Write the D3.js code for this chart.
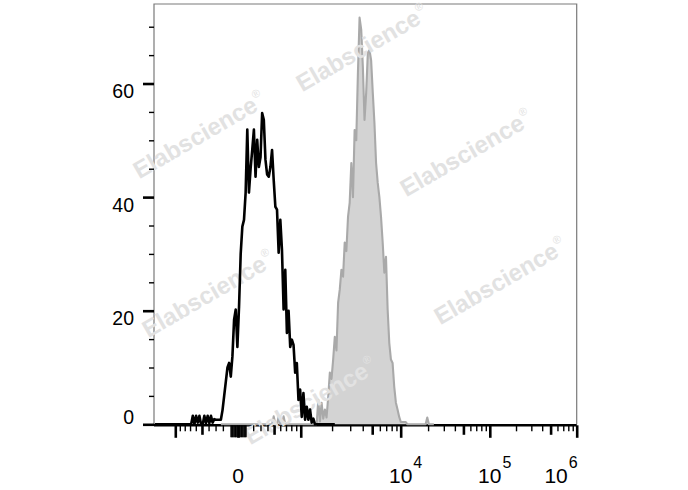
<!DOCTYPE html>
<html><head><meta charset="utf-8">
<script src="https://cdn.jsdelivr.net/npm/d3@7"></script>
<style>
html,body{margin:0;padding:0;background:#fff;}
svg{display:block;font-family:Arial,"Liberation Sans",Helvetica,sans-serif;}
</style>
</head><body>
<svg id="chart" width="688" height="490"></svg>
<script>
// ================= DATA =================
// Y axis (cell count)
const yMajorTicks = [0, 20, 40, 60];
const yMinorTicks = [5, 10, 15, 25, 30, 35, 45, 50, 55, 65, 70];
const yMax = 74;

// X axis (fluorescence, biexponential display)
const xMajorTicks = [-1000, 0, 1000, 10000, 100000, 1000000];
const xMidTicks = [-500, 500, 5000, 50000, 500000];
const xMinorTicks = [-900, -800, -700, -600, -400, -300, -200,
  200, 300, 400, 600, 700, 800, 900,
  2000, 3000, 4000, 6000, 7000, 8000, 9000,
  20000, 30000, 40000, 60000, 70000, 80000, 90000,
  200000, 300000, 400000, 600000, 700000, 800000, 900000];
const xDenseTicks = [-100, -90, -80, -70, -60, -50, -40, -30, -20, -10,
  10, 20, 30, 40, 50, 60, 70, 80, 90, 100];
const xLabelValues = [0, 10000, 100000, 1000000];
const xLabelBases = ["0", "10", "10", "10"];
const xLabelExponents = ["", "4", "5", "6"];

// Histograms: counts per display channel (256 channels across the axis)
const nChannels = 256;
const blackStartChannel = 0;
const blackCounts = [
  0,0,0,0,0,0,0,0,0,0, 0,0,0,0,0,0,0,0,0,0, 0,0,0,
  1.5,0,1.5,0.3,1.5,0,0,1.5,0.2,1.5,0.2,1.5,0.3,0.9,0.8,0.8,0.8,
  0.8,2.5,5,7.5,10,10.8,8.4,12,18.4,20.2,
  13.6,20.7,30,34.8,36,40.8,51.9,40.8,45,48.3,
  51.9,43.6,50.1,45.3,47,54.8,53.6,46.6,44,43.6,
  45.3,48.3,43,38.3,37.8,30.2,36,30.7,20.2,27.2,
  16.1,20,13.6,14.9,14,9.1,10.8,4.3,6.1,1.3,
  5.5,0.8,3.1,0.8,2.6,0.3,1,0,0,0,
  0,0,0,0,0,0,0,0,0,0
];
const grayStartChannel = 40;
const grayCounts = [
  0,0,0,0,0,0,0,0,0,0, 0,0,0,0,0,0,0,0,0,0, 0,0,0,0,0,0,0,0,0,0,
  0,0,1.4,0,0,1.4,0,0,1.4,0, 0,0,0,0,0,0,0,0,0,0,
  0,0,0,0,0,0,0,0,0,
  4.3,0.5,3.8,1,2.6,1.2,4.8,9.1,8,11.4,
  15.4,13,21.4,23.7,27.2,26,32,30.5,36.5,39,
  46,40,51.8,50,61.9,71.6,69.5,62.9,53.6,58.4,
  65.4,65.9,64.1,58.4,53.1,46,42.5,40,36.5,32,
  26.7,29.5,20.2,14.3,11.4,10.8,6.6,3.8,2.6,1.3,
  0.4,0.4,0.4,0.4,0,0,0,0,0,0,
  0,0,0,0,0,0,1.2,0,0,0,0
];

const watermarkText = "Elabscience";

// ================= LAYOUT =================
const plot = {left: 154, right: 576.7, top: 4, bottom: 424.3};
const axisLineY = 425.3;
const displayMin = -0.97, displayMax = 3.91;   // display range in decades
const logicleK = 122.9, logicleP = 3;
const watermarkSpots = [[199,135],[362,48],[466,153],[208,294],[500,281],[310,401]];

// ================= SCALES =================
function logicleInverse(u) {
  const s = u < 0 ? -1 : 1, a = Math.abs(u), p = logicleP;
  return s * logicleK * (Math.pow(10, a) - p * p * Math.pow(10, -a / p) + p * p - 1);
}
function logicle(v) {
  const s = v < 0 ? -1 : 1, t = Math.abs(v);
  let lo = 0, hi = 10;
  for (let k = 0; k < 80; k++) {
    const mid = (lo + hi) / 2;
    if (logicleInverse(mid) < t) lo = mid; else hi = mid;
  }
  return s * (lo + hi) / 2;
}
const xDisplay = d3.scaleLinear().domain([displayMin, displayMax]).range([plot.left, plot.right]);
function makeValueScale() {
  const s = v => xDisplay(logicle(v));
  s.copy = () => makeValueScale();
  s.range = () => xDisplay.range();
  s.domain = () => [logicleInverse(displayMin), logicleInverse(displayMax)];
  return s;
}
const x = makeValueScale();
const channelWidth = (displayMax - displayMin) / nChannels;
const channelCenter = i => displayMin + (i + 0.5) * channelWidth;
const y = d3.scaleLinear().domain([0, yMax]).range([plot.bottom, plot.top]);

const svg = d3.select("#chart");

// frame
svg.append("path")
  .attr("d", `M${plot.left},${plot.bottom}V${plot.top}H${plot.right}V${plot.bottom}`)
  .attr("fill", "none").attr("stroke", "#7a7a7a").attr("stroke-width", 1.2);

const grayData = grayCounts.map((c, k) => ({u: channelCenter(grayStartChannel + k), c}));
const blackData = blackCounts.map((c, k) => ({u: channelCenter(blackStartChannel + k), c}));

// x axis line
const gx = svg.append("g").attr("transform", `translate(0,${axisLineY})`);
gx.append("line").attr("x1", plot.left).attr("x2", plot.right)
  .attr("y1", 0).attr("y2", 0).attr("stroke", "#000").attr("stroke-width", 2.4);

// gray filled histogram
svg.append("path").datum(grayData)
  .attr("d", d3.area().x(d => xDisplay(d.u)).y0(y(0)).y1(d => y(d.c)))
  .attr("fill", "#d3d3d3");
svg.append("path").datum(grayData)
  .attr("d", d3.line().x(d => xDisplay(d.u)).y(d => y(d.c)))
  .attr("fill", "none").attr("stroke", "#a9a9a9").attr("stroke-width", 2.1)
  .attr("stroke-linejoin", "round");

// watermarks
const wm = svg.append("g").attr("fill", "#e2e2e2").attr("font-weight", "bold")
  .attr("font-size", 24).attr("text-anchor", "middle");
watermarkSpots.forEach(([cx, cy]) => {
  const t = wm.append("text").attr("transform", `translate(${cx},${cy}) rotate(-30)`)
    .attr("dy", "0.35em");
  t.append("tspan").text(watermarkText);
  t.append("tspan").text("\u00AE").attr("font-size", 11).attr("font-weight", "normal")
    .attr("dy", "-1.1em").attr("dx", 1);
});

// x ticks (drawn above the watermark)
const gxt = svg.append("g").attr("transform", `translate(0,${axisLineY})`);
function xTicks(vals, size, width) {
  const ax = d3.axisBottom(x).tickValues(vals).tickSize(size).tickSizeOuter(0).tickFormat("");
  const g = gxt.append("g").call(ax);
  g.select(".domain").remove();
  g.selectAll(".tick line").attr("stroke", "#000").attr("stroke-width", width);
  return g;
}
xTicks(xMinorTicks, 6, 1.4);
xTicks(xDenseTicks, 12, 1.1);
xTicks(xMidTicks, 9.5, 2.6);
xTicks(xMajorTicks, 12.5, 2.6);

// black line histogram
svg.append("path").datum(blackData)
  .attr("d", d3.line().x(d => xDisplay(d.u)).y(d => y(d.c)))
  .attr("fill", "none").attr("stroke", "#000").attr("stroke-width", 2.6)
  .attr("stroke-linejoin", "round");

// ================= Y AXIS =================
const gyMinor = svg.append("g").attr("transform", `translate(${plot.left},0)`)
  .call(d3.axisLeft(y).tickValues(yMinorTicks).tickSize(5).tickFormat(""));
gyMinor.select(".domain").remove();
gyMinor.selectAll(".tick line").attr("stroke", "#000").attr("stroke-width", 1.4);

const gy = svg.append("g").attr("transform", `translate(${plot.left},0)`)
  .call(d3.axisLeft(y).tickValues(yMajorTicks).tickSize(11).tickPadding(9).tickFormat(d3.format("d")));
gy.select(".domain").remove();
gy.selectAll(".tick line").attr("stroke", "#000").attr("stroke-width", 2.6);
gy.selectAll(".tick text").attr("fill", "#000").attr("font-size", 19.5)
  .attr("font-family", "Arial, 'Liberation Sans', sans-serif")
  .attr("dy", d => d === 0 ? "-0.05em" : "0.72em");

// ================= X LABELS =================
const lab = svg.append("g").attr("font-size", 21).attr("fill", "#000");
xLabelValues.forEach((v, k) => {
  const t = lab.append("text").attr("y", 483).attr("x", x(v));
  const base = t.append("tspan").text(xLabelBases[k]);
  if (xLabelExponents[k]) {
    t.append("tspan").text(xLabelExponents[k]).attr("font-size", 16).attr("dy", -15).attr("dx", 1);
  }
  const bw = base.node().getComputedTextLength();
  const tw = t.node().getComputedTextLength();
  let left = x(v) - bw / 2;
  if (left + tw > plot.right) left = plot.right - tw;
  t.attr("x", left);
});
</script>
</body></html>
